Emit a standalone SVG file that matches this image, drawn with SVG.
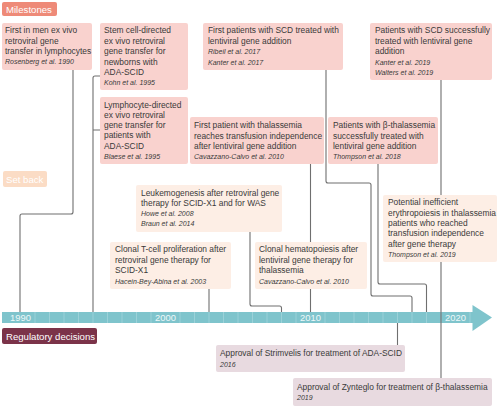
<svg xmlns="http://www.w3.org/2000/svg" width="500" height="407" viewBox="0 0 500 407">
<style>
.ms{fill:#f9d2ce}
.sb{fill:#fdeee5}
.rg{fill:#e8dae0}
.t{font-family:"Liberation Sans",Arial,sans-serif;font-size:8.4px;fill:#3a3a3a}
.r{font-family:"Liberation Sans",Arial,sans-serif;font-size:7px;font-style:italic;fill:#3a3a3a}
.h{font-family:"Liberation Sans",Arial,sans-serif;font-size:9.6px;fill:#ffffff}
.yr{font-family:"Liberation Sans",Arial,sans-serif;font-size:9.4px;fill:#eef8f9;text-anchor:middle}
.c{fill:none;stroke:#6f6f6f;stroke-width:1.1}
.tk{stroke:#a8d7dd;stroke-width:0.7}
</style>
<rect width="500" height="407" fill="#ffffff"/>

<g id="timeline">
<rect x="2" y="312" width="473" height="11" fill="#7fc4cc"/>
<polygon points="472.5,305 492,317.5 472.5,331" fill="#7fc4cc"/>
<g class="tk">
<line x1="35" y1="312" x2="35" y2="323"/><line x1="49.5" y1="312" x2="49.5" y2="323"/><line x1="64" y1="312" x2="64" y2="323"/><line x1="78.5" y1="312" x2="78.5" y2="323"/><line x1="93" y1="312" x2="93" y2="323"/><line x1="107.5" y1="312" x2="107.5" y2="323"/><line x1="122" y1="312" x2="122" y2="323"/><line x1="136.5" y1="312" x2="136.5" y2="323"/><line x1="151" y1="312" x2="151" y2="323"/>
<line x1="180" y1="312" x2="180" y2="323"/><line x1="194.5" y1="312" x2="194.5" y2="323"/><line x1="209" y1="312" x2="209" y2="323"/><line x1="223.5" y1="312" x2="223.5" y2="323"/><line x1="238" y1="312" x2="238" y2="323"/><line x1="252.5" y1="312" x2="252.5" y2="323"/><line x1="267" y1="312" x2="267" y2="323"/><line x1="281.5" y1="312" x2="281.5" y2="323"/><line x1="296" y1="312" x2="296" y2="323"/>
<line x1="325" y1="312" x2="325" y2="323"/><line x1="339.5" y1="312" x2="339.5" y2="323"/><line x1="354" y1="312" x2="354" y2="323"/><line x1="368.5" y1="312" x2="368.5" y2="323"/><line x1="383" y1="312" x2="383" y2="323"/><line x1="397.5" y1="312" x2="397.5" y2="323"/><line x1="412" y1="312" x2="412" y2="323"/><line x1="426.5" y1="312" x2="426.5" y2="323"/><line x1="441" y1="312" x2="441" y2="323"/>
<line x1="470" y1="312" x2="470" y2="323"/>
</g>
<text class="yr" x="20.5" y="321">1990</text>
<text class="yr" x="165.5" y="321">2000</text>
<text class="yr" x="310.5" y="321">2010</text>
<text class="yr" x="455.5" y="321">2020</text>
</g>

<g id="connectors">
<path class="c" d="M73,70 V212 Q73,214 71,214 H22 Q20,214 20,216 V312"/>
<path class="c" d="M100,76 H95 Q93,76 93,78 V312 M93,130 H100"/>
<path class="c" d="M209,289 V312"/>
<path class="c" d="M250,232 V304 Q250,306 252,306 H279.5 Q281.5,306 281.5,308 V312"/>
<path class="c" d="M310.5,164 V242 M310.5,289 V312"/>
<path class="c" d="M326,70 V181 Q326,183 328,183 H369 Q371,183 371,185 V294 Q371,296 373,296 H410 Q412,296 412,298 V312"/>
<path class="c" d="M378,164 V282 Q378,284 380,284 H424.5 Q426.5,284 426.5,286 V312"/>
<path class="c" d="M441,80 V195 M441,262 V378"/>
<path class="c" d="M397.5,323 V345"/>
</g>

<g id="label-milestones">
<rect x="2" y="2" width="55" height="14" rx="2" fill="#ee8a78"/>
<text class="h" x="6" y="12.5">Milestones</text>
</g>
<g id="label-setback">
<rect x="3" y="171" width="44" height="16" rx="2" fill="#fbdcc5"/>
<text class="h" x="6" y="182.5">Set back</text>
</g>
<g id="label-regulatory">
<rect x="2" y="328" width="95" height="16" rx="2" fill="#7b3349"/>
<text class="h" x="6" y="339.5">Regulatory decisions</text>
</g>

<g id="rosenberg1990">
<rect class="ms" x="2" y="23" width="90" height="47" rx="2"/>
<text class="t" x="5" y="33">First in men ex vivo</text>
<text class="t" x="5" y="43.5">retroviral gene</text>
<text class="t" x="5" y="54">transfer in lymphocytes</text>
<text class="r" x="5" y="64">Rosenberg et al. 1990</text>
</g>

<g id="kohn1995">
<rect class="ms" x="100" y="23" width="88" height="67" rx="2"/>
<text class="t" x="104" y="33">Stem cell-directed</text>
<text class="t" x="104" y="43.5">ex vivo retroviral</text>
<text class="t" x="104" y="54">gene transfer for</text>
<text class="t" x="104" y="64.5">newborns with</text>
<text class="t" x="104" y="75">ADA-SCID</text>
<text class="r" x="104" y="85">Kohn et al. 1995</text>
</g>

<g id="blaese1995">
<rect class="ms" x="100" y="97" width="88" height="67" rx="2"/>
<text class="t" x="104" y="107.5">Lymphocyte-directed</text>
<text class="t" x="104" y="117.8">ex vivo retroviral</text>
<text class="t" x="104" y="128.1">gene transfer for</text>
<text class="t" x="104" y="138.4">patients with</text>
<text class="t" x="104" y="148.7">ADA-SCID</text>
<text class="r" x="104" y="159">Blaese et al. 1995</text>
</g>

<g id="ribeil2017">
<rect class="ms" x="203" y="23" width="140" height="47" rx="2"/>
<text class="t" x="208" y="33">First patients with SCD treated with</text>
<text class="t" x="208" y="43.5">lentiviral gene addition</text>
<text class="r" x="208" y="54">Ribeil et al. 2017</text>
<text class="r" x="208" y="64.5">Kanter et al. 2017</text>
</g>

<g id="kanter2019">
<rect class="ms" x="370" y="23" width="122" height="57" rx="2"/>
<text class="t" x="375" y="33">Patients with SCD successfully</text>
<text class="t" x="375" y="43.5">treated with lentiviral gene</text>
<text class="t" x="375" y="54">addition</text>
<text class="r" x="375" y="64.5">Kanter et al. 2019</text>
<text class="r" x="375" y="75">Walters et al. 2019</text>
</g>

<g id="cavazzano2010">
<rect class="ms" x="190" y="117" width="134" height="47" rx="2"/>
<text class="t" x="194" y="128">First patient with thalassemia</text>
<text class="t" x="194" y="138.5">reaches transfusion independence</text>
<text class="t" x="194" y="149">after lentiviral gene addition</text>
<text class="r" x="194" y="159">Cavazzano-Calvo et al. 2010</text>
</g>

<g id="thompson2018">
<rect class="ms" x="328" y="117" width="110" height="47" rx="2"/>
<text class="t" x="333" y="128">Patients with β-thalassemia</text>
<text class="t" x="333" y="138.5">successfully treated with</text>
<text class="t" x="333" y="149">lentiviral gene addition</text>
<text class="r" x="333" y="159">Thompson et al. 2018</text>
</g>

<g id="leukemogenesis">
<rect class="sb" x="136" y="185" width="146" height="47" rx="2"/>
<text class="t" x="141" y="195.7">Leukemogenesis after retroviral gene</text>
<text class="t" x="141" y="206">therapy for SCID-X1 and for WAS</text>
<text class="r" x="141" y="216">Howe et al. 2008</text>
<text class="r" x="141" y="226">Braun et al. 2014</text>
</g>

<g id="clonalTcell">
<rect class="sb" x="110" y="242" width="121" height="47" rx="2"/>
<text class="t" x="115" y="252.3">Clonal T-cell proliferation after</text>
<text class="t" x="115" y="262.6">retroviral gene therapy for</text>
<text class="t" x="115" y="273">SCID-X1</text>
<text class="r" x="115" y="283.5">Hacein-Bey-Abina et al. 2003</text>
</g>

<g id="clonalHemato">
<rect class="sb" x="255" y="242" width="112" height="47" rx="2"/>
<text class="t" x="259" y="252.3">Clonal hematopoiesis after</text>
<text class="t" x="259" y="262.6">lentiviral gene therapy for</text>
<text class="t" x="259" y="273">thalassemia</text>
<text class="r" x="259" y="283.5">Cavazzano-Calvo et al. 2010</text>
</g>

<g id="thompson2019">
<rect class="sb" x="383" y="195" width="114" height="67" rx="2"/>
<text class="t" x="388" y="205.3">Potential inefficient</text>
<text class="t" x="388" y="215.7">erythropoiesis in thalassemia</text>
<text class="t" x="388" y="226">patients who reached</text>
<text class="t" x="388" y="236.3">transfusion independence</text>
<text class="t" x="388" y="246.7">after gene therapy</text>
<text class="r" x="388" y="257">Thompson et al. 2019</text>
</g>

<g id="strimvelis2016">
<rect class="rg" x="216" y="345" width="189" height="27" rx="2"/>
<text class="t" x="220" y="356.3">Approval of Strimvelis for treatment of ADA-SCID</text>
<text class="r" x="220" y="367">2016</text>
</g>

<g id="zynteglo2019">
<rect class="rg" x="293" y="378" width="199" height="28" rx="2"/>
<text class="t" x="297" y="389.7">Approval of Zynteglo for treatment of β-thalassemia</text>
<text class="r" x="297" y="399.7">2019</text>
</g>
</svg>
